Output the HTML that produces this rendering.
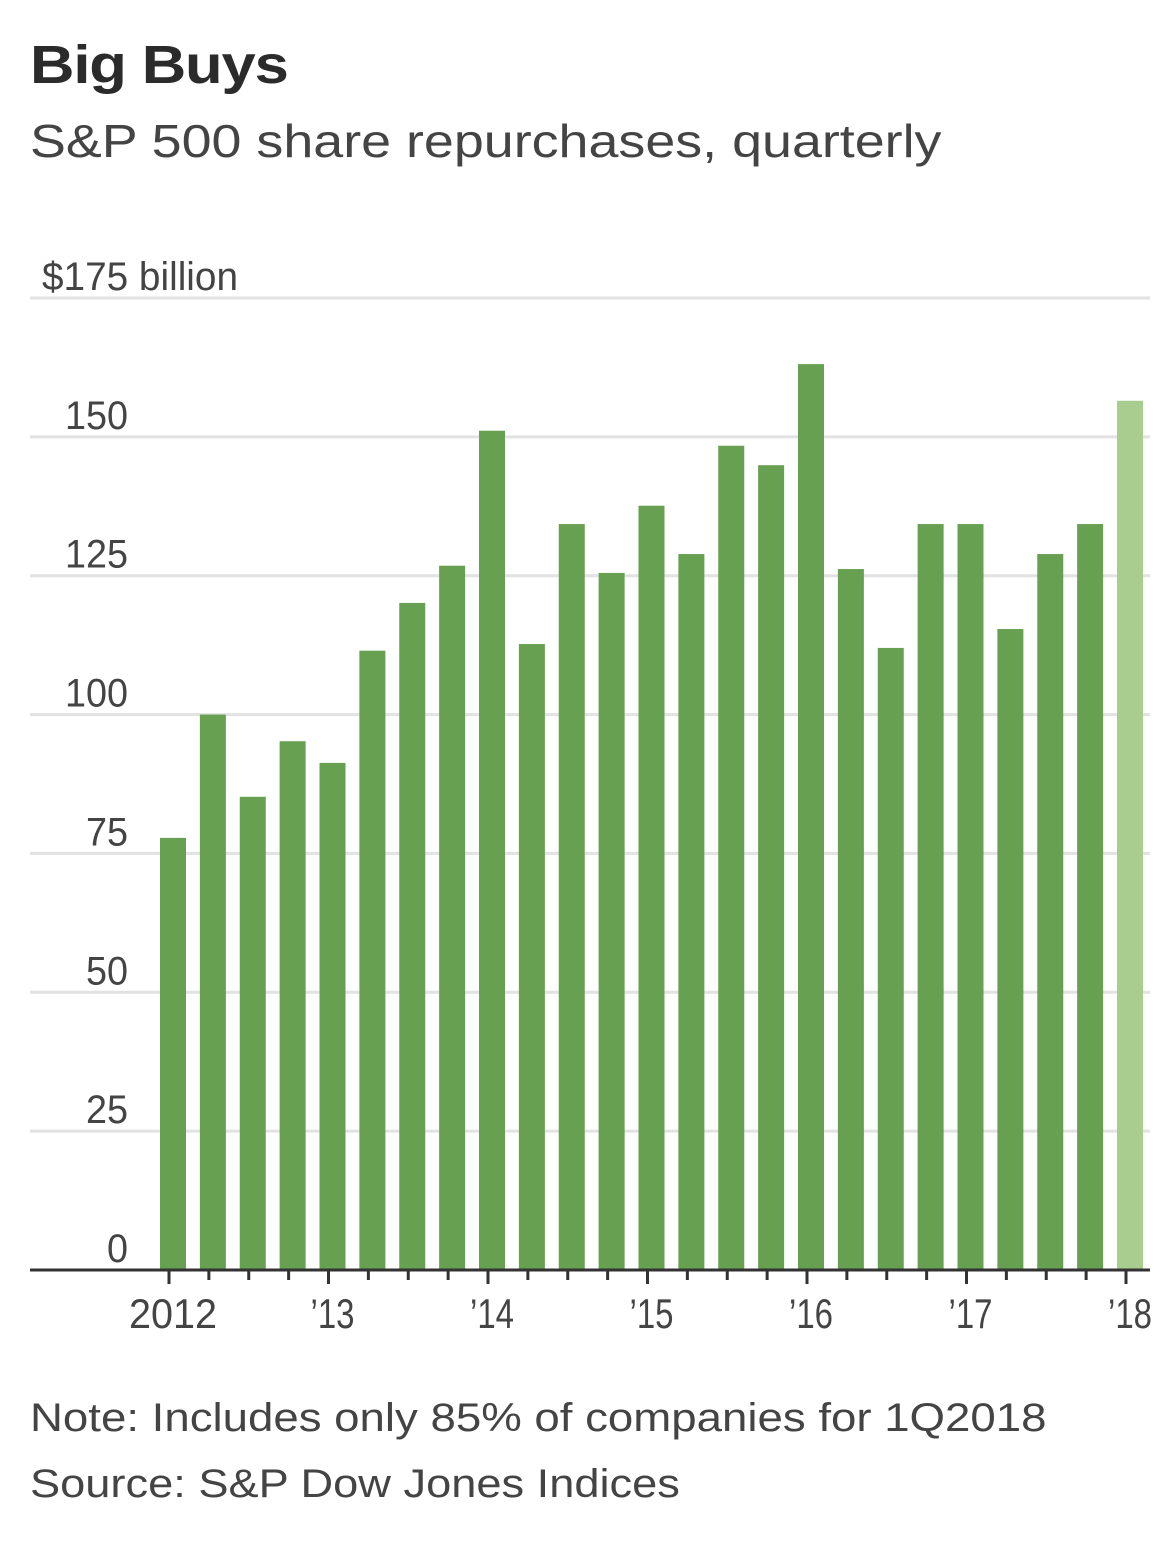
<!DOCTYPE html>
<html><head><meta charset="utf-8"><style>
html,body{margin:0;padding:0;background:#fff;}
body{width:1172px;height:1545px;position:relative;overflow:hidden;font-family:"Liberation Sans",sans-serif;color:#333;}
.t{position:absolute;white-space:nowrap;transform-origin:0 0;}
</style></head><body>
<div class="t" style="left:30px;top:34px;font-size:54px;font-weight:bold;color:#2b2b2b;letter-spacing:-1px;transform:scaleX(1.14);">Big Buys</div>
<div class="t" style="left:30px;top:114px;font-size:46px;color:#444;transform:scaleX(1.17);">S&amp;P 500 share repurchases, quarterly</div>
<svg id="chart" width="1172" height="1380" style="position:absolute;left:0;top:0" xmlns="http://www.w3.org/2000/svg"></svg>
<div class="t" style="left:30px;top:1396px;font-size:40px;color:#444;transform:scaleX(1.14);">Note: Includes only 85% of companies for 1Q2018</div>
<div class="t" style="left:30px;top:1462px;font-size:40px;color:#444;transform:scaleX(1.13);">Source: S&amp;P Dow Jones Indices</div>
<script>
const values=[77.8,100,85.2,95.2,91.3,111.5,120.1,126.8,151.1,112.7,134.3,125.5,137.6,128.9,148.4,144.9,163.1,126.2,112,134.3,134.3,115.4,128.9,134.3,156.5];
const yTicks=[0,25,50,75,100,125,150,175];
const yTickLabels=["0","25","50","75","100","125","150","$175 billion"];
const xLabels=["2012","’13","’14","’15","’16","’17","’18"];
const xLabelIdx=[0,4,8,12,16,20,24];
const NS="http://www.w3.org/2000/svg";
const svg=document.getElementById('chart');
const y0=1270,yTop=298,x0=160,step=39.875,bw=26;
const y=v=>y0-(v/175)*(y0-yTop);
const x=i=>x0+i*step;
function mk(t,a){const e=document.createElementNS(NS,t);for(const k in a)e.setAttribute(k,a[k]);svg.appendChild(e);return e;}
yTicks.forEach((v,i)=>{
 if(v>0){const l=mk('line',{x1:30,x2:1150,y1:y(v),y2:y(v),stroke:'#e2e2e2','stroke-width':3});
 
 }
 const t=mk('text',{x:i==7?42:128,y:y(v)-8,'font-size':40,fill:'#444','text-anchor':i==7?'start':'end','font-family':'Liberation Sans, sans-serif',textLength:i==7?196:(yTickLabels[i].length*21),lengthAdjust:'spacingAndGlyphs'});
 t.textContent=yTickLabels[i];
 
 
});
values.forEach((v,i)=>{
 const r=mk('rect',{x:x(i),y:y(v),width:bw,height:y0-y(v),fill:i==24?'#a9cc8f':'#66a050'});
 
 
 const yr=xLabelIdx.includes(i);
 const tk=mk('line',{x1:x(i)+bw/2-4,x2:x(i)+bw/2-4,y1:y0,y2:y0+(yr?14:10),stroke:'#333','stroke-width':3});
 
 
});
const ax=mk('line',{x1:30,x2:1150,y1:y0,y2:y0,stroke:'#333','stroke-width':3});


xLabels.forEach((s,k)=>{
 const i=xLabelIdx[k];
 const t=mk('text',{x:x(i)+bw/2,y:1328,'font-size':42,fill:'#444','text-anchor':'middle','font-family':'Liberation Sans, sans-serif',textLength:k==0?88:44,lengthAdjust:'spacingAndGlyphs'});
 t.textContent=s;
 
 
});
</script>
</body></html>
